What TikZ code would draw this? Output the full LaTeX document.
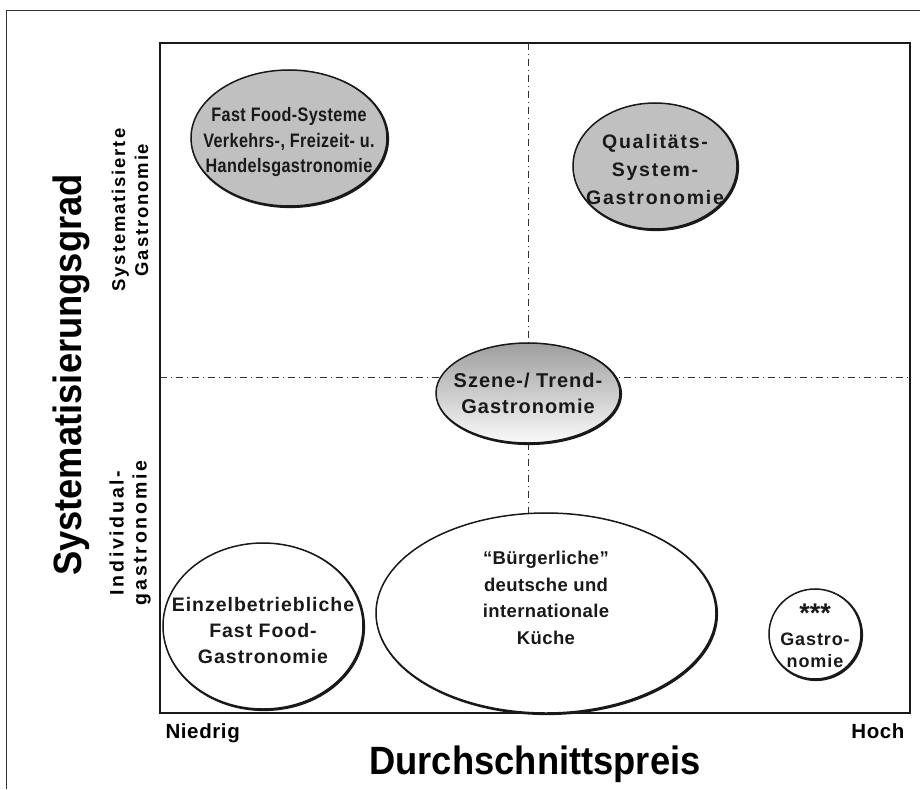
\documentclass[tikz,border=0pt]{standalone}
\usepackage{fontspec}
\setmainfont{Liberation Sans}
\newfontfamily\condf[FakeStretch=0.83]{Liberation Sans}
\newfontfamily\bigf[FakeStretch=0.92]{Liberation Sans}
\usetikzlibrary{shapes.geometric}
\definecolor{fillgray}{HTML}{C0C0C0}
\newcommand{\tfont}[3]{\fontsize{#1}{#2}\selectfont\bfseries\addfontfeatures{LetterSpace=#3}}
\begin{document}
\begin{tikzpicture}[x=1pt,y=-1pt,
  blob/.style={ellipse,draw=black!90,line width=1.5pt,inner sep=0pt,fill=white},
  grayblob/.style={blob,fill=fillgray},
  shade/.style={ellipse,draw=black!90,line width=2.2pt,inner sep=0pt},
  btext/.style={align=center,text=black!90},
  tight/.style={btext,inner sep=0pt,anchor=base,text height=13.5pt,text depth=2pt},
  sidelab/.style={rotate=90,align=center},
  axislab/.style={font=\bigf\fontsize{39.5}{44}\selectfont\bfseries},
  quad/.style={line width=0.6pt,black!80,dash pattern=on 7pt off 4pt on 1pt off 4pt}]
\useasboundingbox (0,0) rectangle (920,789);
\fill[white] (0,0) rectangle (920,789);
% outer frame
\draw[line width=0.8pt,black!80] (6,789) -- (6,10) -- (921,10);
% plot frame
\coordinate (tl) at (160,43);
\coordinate (br) at (910,713);
\draw[line width=1.6pt,black!90] (tl) rectangle (br);
% quadrant lines
\coordinate (vt) at (528,43);
\coordinate (vb) at (528,713);
\coordinate (hl) at (160,377);
\coordinate (hr) at (910,377);
\draw[quad] (vt) -- (vb);
\draw[quad] (hl) -- (hr);
% ellipse shadows (thicker lower-right rim)
\node[shade,minimum width=196pt,minimum height=136pt] (ffs) at (290,139) {};
\node[shade,minimum width=164pt,minimum height=126pt] (qss) at (656,167) {};
\node[shade,minimum width=184pt,minimum height=100pt] (szs) at (529,394) {};
\node[shade,minimum width=200pt,minimum height=166pt] (ezs) at (264,627) {};
\node[shade,minimum width=340pt,minimum height=200pt] (bgs) at (547,614) {};
\node[shade,minimum width=92pt,minimum height=90pt] (sts) at (816,635) {};
% ellipses
\node[grayblob,minimum width=196pt,minimum height=136pt] (ff) at (289,138) {};
\node[grayblob,minimum width=164pt,minimum height=126pt] (qs) at (655,166) {};
\node[blob,top color=black!38,bottom color=black!2,minimum width=184pt,minimum height=100pt] (sz) at (528,393) {};
\node[blob,minimum width=200pt,minimum height=166pt] (ez) at (263,626) {};
\node[blob,minimum width=340pt,minimum height=200pt] (bg) at (546,613) {};
\node[blob,minimum width=92pt,minimum height=90pt] (st) at (815,634) {};
% ellipse texts
\node[btext,font=\condf\tfont{19.5}{25.5}{2}] (fft) at (289,142)
  {Fast Food-Systeme\\Verkehrs-, Freizeit- u.\\Handelsgastronomie};
\node[btext,font=\tfont{19.5}{28}{9}] (qst) at (655,170) {Qualitäts-\\System-\\Gastronomie};
\node[btext,font=\tfont{20}{26}{5}] (szt) at (528,393) {Szene-/ Trend-\\Gastronomie};
\node[btext,font=\tfont{19.5}{26}{5}] (ezt) at (263,631) {Einzelbetriebliche\\Fast Food-\\Gastronomie};
\node[btext,font=\tfont{18.5}{26.5}{2}] (bgt) at (546,598) {“Bürgerliche”\\deutsche und\\internationale\\Küche};
\node[tight,font=\tfont{27}{27}{0}] (st1) at (815,622) {***};
\node[tight,font=\tfont{18}{22}{5}] (st2) at (815,645) {Gastro-};
\node[tight,font=\tfont{18}{22}{5}] (st3) at (815,667) {nomie};
% axis labels
\node[axislab,rotate=90] (ylab) at (71,375) {Systematisierungsgrad};
\node[sidelab,font=\tfont{18.5}{23}{10}] (ysys) at (130,210) {Systematisierte\\Gastronomie};
\node[sidelab,font=\tfont{19.5}{23}{14}] (yind) at (130,533) {Individual-\\gastronomie};
\node[font=\tfont{20.5}{22}{3},anchor=base west] (lo) at (162,738) {Niedrig};
\node[font=\tfont{20.5}{22}{3},anchor=base east] (hi) at (908,738) {Hoch};
\node[axislab] (xlab) at (535,764) {Durchschnittspreis};
\end{tikzpicture}
\end{document}
